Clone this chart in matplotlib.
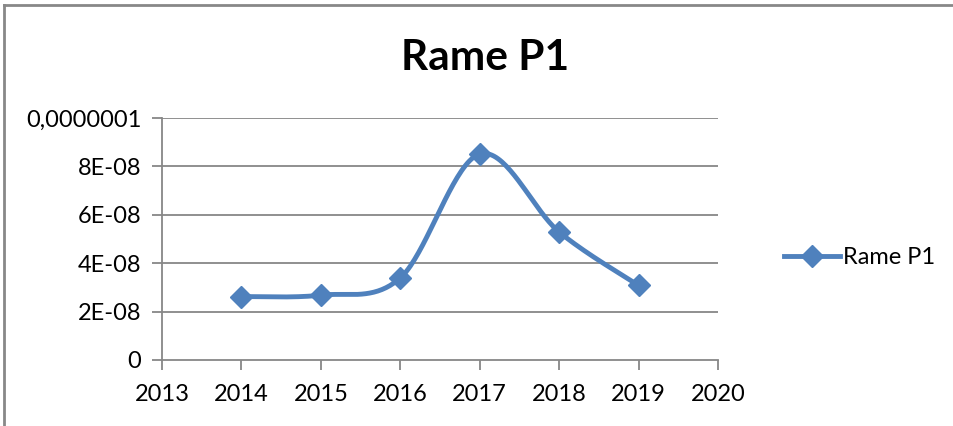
import numpy as np
import matplotlib
matplotlib.use("Agg")
import matplotlib.pyplot as plt
from matplotlib.lines import Line2D

years = [2014, 2015, 2016, 2017, 2018, 2019]
values = [2.62e-8, 2.68e-8, 3.39e-8, 8.51e-8, 5.29e-8, 3.08e-8]
yticks = [0, 2e-8, 4e-8, 6e-8, 8e-8, 1e-7]
ytick_labels = ["0", "2E-08", "4E-08", "6E-08", "8E-08", "0,0000001"]
xticks = [2013, 2014, 2015, 2016, 2017, 2018, 2019, 2020]
series_name = "Rame P1"
title = "Rame P1"

plt.rcParams['font.family'] = ['Lato', 'DejaVu Sans']

def smooth(x, y, n=40):
    x = np.asarray(x, float); y = np.asarray(y, float)
    xs = (x - x.min()) / (x.max() - x.min())
    ys = y / 1e-7
    px, py = [], []
    N = len(x)
    for i in range(N - 1):
        p0 = np.array([xs[max(i-1, 0)], ys[max(i-1, 0)]])
        p1 = np.array([xs[i], ys[i]])
        p2 = np.array([xs[i+1], ys[i+1]])
        p3 = np.array([xs[min(i+2, N-1)], ys[min(i+2, N-1)]])
        c1 = p1 + (p2 - p0) / 6
        c2 = p2 - (p3 - p1) / 6
        t = np.linspace(0, 1, n)[:, None]
        b = (1-t)**3*p1 + 3*(1-t)**2*t*c1 + 3*(1-t)*t**2*c2 + t**3*p2
        px.append(b[:, 0]); py.append(b[:, 1])
    px = np.concatenate(px) * (x.max() - x.min()) + x.min()
    py = np.concatenate(py) * 1e-7
    return px, py

fig = plt.figure(figsize=(9.54, 4.26), dpi=100)
ax = fig.add_axes([162/954, 1-360/426, (718-162)/954, (360-118)/426])

color = "#4F81BD"
grid_c = "#878787"
fs = 17
sx, sy = smooth(years, values)
ax.plot(sx, sy, color=color, lw=3.5, solid_capstyle='round', zorder=3)
ax.plot(years, values, linestyle='none', marker='D', ms=11.5, color=color, zorder=4)

ax.set_xlim(2013, 2020)
ax.set_ylim(0, 1e-7)
ax.set_yticks(yticks)
ax.set_yticklabels(ytick_labels)
ax.set_xticks(xticks)
ax.set_xticklabels([str(v) for v in xticks])
for yv in yticks[1:]:
    ax.axhline(yv, color=grid_c, lw=1.3, zorder=1)
for s in ['top', 'right']:
    ax.spines[s].set_visible(False)
for s in ['left', 'bottom']:
    ax.spines[s].set_color(grid_c)
    ax.spines[s].set_linewidth(1.3)
ax.tick_params(axis='both', colors=grid_c, width=1.3, length=7, labelcolor='black', labelsize=fs)
ax.tick_params(axis='y', pad=8)
ax.tick_params(axis='x', pad=10)

fig.text(485/954, 1-58/426, title, ha='center', va='center', fontsize=30.5, fontweight='bold')

handle = Line2D([0], [0], color=color, lw=3.5, marker='D', ms=11.5)
fig.legend([handle], [series_name], loc='center left', bbox_to_anchor=(763/954, 1-258/426),
           frameon=False, fontsize=fs, handlelength=2.35, handletextpad=0.15)

fig.add_artist(Line2D([4/954, 4/954], [0, 1-5/426], color="#888888", lw=2, transform=fig.transFigure))
fig.add_artist(Line2D([4/954, 1], [1-5/426, 1-5/426], color="#888888", lw=2, transform=fig.transFigure))

fig.savefig("out.png", dpi=100)
